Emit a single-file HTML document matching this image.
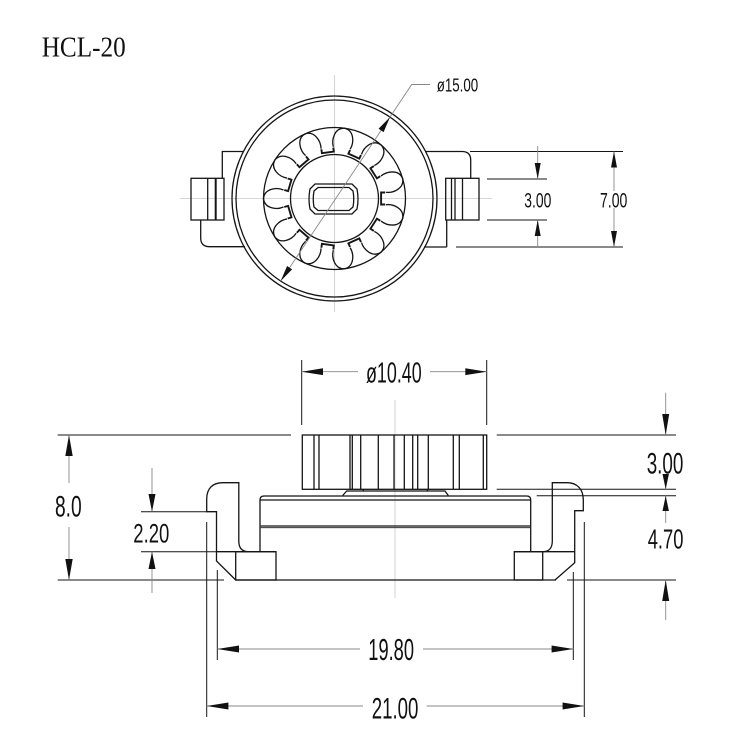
<!DOCTYPE html>
<html><head><meta charset="utf-8"><style>
html,body{margin:0;padding:0;background:#fff;}
svg{display:block;}
text{font-family:"Liberation Sans",sans-serif;fill:#111;}
</style></head><body>
<svg width="750" height="750" viewBox="0 0 750 750" xmlns="http://www.w3.org/2000/svg">
<rect width="750" height="750" fill="#fff"/>

<!-- Title -->
<text x="41.7" y="56.7" font-size="29" style="font-family:'Liberation Serif',serif" textLength="84" lengthAdjust="spacingAndGlyphs">HCL-20</text>

<!-- ============ TOP VIEW ============ -->
<g stroke="#c8c8c8" stroke-width="0.8" fill="none">
  <line x1="334.5" y1="75" x2="334.5" y2="312"/>
  <line x1="180" y1="198.5" x2="492" y2="198.5"/>
</g>
<g stroke="#151515" stroke-width="1.3" fill="none">
  <circle cx="334.5" cy="198.5" r="102.5"/>
  <circle cx="334.5" cy="198.5" r="98.5"/>
  <circle cx="334.5" cy="198.5" r="71"/>
  <circle cx="334.5" cy="198.5" r="44"/>
  <!-- slot -->
  <path d="M315,184 L352,184 L357,189 Q359,199 357,209 L352,214 L315,214 L310,209 Q308,199 310,189 Z"/>
  <path d="M318,187.5 L349,187.5 L353,191 Q354.5,199 353,207 L349,210.5 L318,210.5 L314,207 Q312.5,199 314,191 Z"/>
  <!-- petals -->
  <g transform="translate(334.5,198.5) rotate(180)">
    <g id="pet">
      <path d="M51,-8.5 C58,-11.5 70,-10 71,0 C70,10 58,11.5 51,8.5"/>
    </g>
    <use href="#pet" transform="rotate(32.727)"/>
    <use href="#pet" transform="rotate(65.454)"/>
    <use href="#pet" transform="rotate(98.181)"/>
    <use href="#pet" transform="rotate(130.909)"/>
    <use href="#pet" transform="rotate(163.636)"/>
    <use href="#pet" transform="rotate(196.363)"/>
    <use href="#pet" transform="rotate(229.090)"/>
    <use href="#pet" transform="rotate(261.818)"/>
    <use href="#pet" transform="rotate(294.545)"/>
    <use href="#pet" transform="rotate(327.272)"/>
    <g id="notch" transform="rotate(16.36)">
      <path d="M50.6,-6 L46.6,-6 L46.6,6 L50.6,6" stroke-width="1.9"/>
    </g>
    <use href="#notch" transform="rotate(32.727)"/>
    <use href="#notch" transform="rotate(65.454)"/>
    <use href="#notch" transform="rotate(98.181)"/>
    <use href="#notch" transform="rotate(130.909)"/>
    <use href="#notch" transform="rotate(163.636)"/>
    <use href="#notch" transform="rotate(196.363)"/>
    <use href="#notch" transform="rotate(229.090)"/>
    <use href="#notch" transform="rotate(261.818)"/>
    <use href="#notch" transform="rotate(294.545)"/>
    <use href="#notch" transform="rotate(327.272)"/>
  </g>
  <!-- left bracket -->
  <path d="M243,151.5 L222.3,151.5 L222.3,178.3"/>
  <rect x="191" y="178.3" width="33" height="41.7"/>
  <line x1="207.7" y1="178.3" x2="207.7" y2="220"/>
  <line x1="215.7" y1="178.3" x2="215.7" y2="220" stroke-width="2"/>
  <path d="M200.7,220 L200.7,238 Q200.7,246.7 209.5,246.7 L245,246.7"/>
  <!-- right bracket -->
  <path d="M425,151.5 L462,151.5 Q470.7,151.5 470.7,160 L470.7,178.3"/>
  <rect x="445.7" y="178.3" width="33.3" height="41.7"/>
  <line x1="451.5" y1="178.3" x2="451.5" y2="220"/>
  <line x1="455" y1="178.3" x2="455" y2="220"/>
  <line x1="462.5" y1="178.3" x2="462.5" y2="220"/>
  <path d="M446.7,220 L446.7,247"/>
  <path d="M424,247 L446.7,247"/>
</g>
<!-- top view ext lines -->
<g stroke="#151515" stroke-width="1" fill="none">
  <line x1="470" y1="151.5" x2="623" y2="151.5"/>
  <line x1="456" y1="247" x2="623" y2="247"/>
  <line x1="487" y1="179" x2="547" y2="179"/>
  <line x1="487" y1="220" x2="547" y2="220"/>
</g>
<g stroke="#888" stroke-width="0.9" fill="none">
  <line x1="537.7" y1="146" x2="537.7" y2="179"/>
  <line x1="537.7" y1="220" x2="537.7" y2="247"/>
  <line x1="614" y1="151.5" x2="614" y2="191"/>
  <line x1="614" y1="208" x2="614" y2="247"/>
  <polyline points="280.7,281 411.7,84.5 430,84.5"/>
</g>
<g fill="#111" stroke="none">
  <polygon points="537.7,179 534.7,163 540.7,163"/>
  <polygon points="537.7,220 534.7,236 540.7,236"/>
  <polygon points="614,151.5 611,167.5 617,167.5"/>
  <polygon points="614,247 611,231 617,231"/>
  <polygon points="390,117.1 383.6,132.1 378.6,128.7"/>
  <polygon points="280.7,281 292.1,269.4 287.1,266.0"/>
</g>
<text x="524.3" y="207.3" font-size="21.5" textLength="27" lengthAdjust="spacingAndGlyphs">3.00</text>
<text x="600" y="207.3" font-size="21.5" textLength="27.3" lengthAdjust="spacingAndGlyphs">7.00</text>
<text x="436.7" y="91.7" font-size="18.5" textLength="41.5" lengthAdjust="spacingAndGlyphs">ø15.00</text>

<!-- ============ SIDE VIEW ============ -->
<line x1="395" y1="400" x2="395" y2="598" stroke="#c8c8c8" stroke-width="0.8"/>
<g stroke="#151515" stroke-width="1.3" fill="none">
  <!-- knob -->
  <rect x="302.3" y="435" width="184.4" height="54.3"/>
  <line x1="314" y1="435" x2="314" y2="489.3"/>
  <line x1="319" y1="435" x2="319" y2="489.3"/>
  <line x1="350" y1="435" x2="350" y2="489.3"/>
  <line x1="352.3" y1="435" x2="352.3" y2="489.3"/>
  <line x1="360.7" y1="435" x2="360.7" y2="489.3"/>
  <line x1="378.3" y1="435" x2="378.3" y2="489.3"/>
  <line x1="394" y1="435" x2="394" y2="489.3"/>
  <line x1="404.3" y1="435" x2="404.3" y2="489.3"/>
  <line x1="412.7" y1="435" x2="412.7" y2="489.3"/>
  <line x1="417.7" y1="435" x2="417.7" y2="489.3"/>
  <line x1="428.3" y1="435" x2="428.3" y2="489.3"/>
  <line x1="453.3" y1="435" x2="453.3" y2="489.3"/>
  <line x1="459.3" y1="435" x2="459.3" y2="489.3"/>
  <line x1="483.3" y1="435" x2="483.3" y2="489.3"/>
  <!-- raised part -->
  <path d="M342.7,495.5 L346.7,491 L445,491 L448.3,495.5"/>
  <line x1="363.3" y1="489.3" x2="363.3" y2="491"/>
  <line x1="427.3" y1="489.3" x2="427.3" y2="491"/>
  <!-- body -->
  <path d="M260,551.7 L260,500 Q260,496 264,496 L526.7,496 Q530.7,496 530.7,500 L530.7,551.7"/>
  <line x1="260" y1="500" x2="530.7" y2="500"/>
  <line x1="260.7" y1="526" x2="530" y2="526"/>
  <line x1="260.7" y1="527.7" x2="530" y2="527.7" stroke-width="0.8"/>
  <!-- feet -->
  <rect x="235.7" y="551.7" width="40.3" height="28.3"/>
  <rect x="514.3" y="551.7" width="28.4" height="28.3"/>
  <line x1="216.5" y1="551.7" x2="276" y2="551.7"/>
  <line x1="514.3" y1="551.7" x2="574.7" y2="551.7"/>
  <line x1="235.7" y1="580" x2="556" y2="580"/>
  <!-- brackets -->
  <path d="M235.7,580 L216.5,561 L216.5,511.7 L206.7,511.7 L206.7,499 C206.7,488 213,482.7 223,482.7 L238.8,482.7 L238.8,541 C238.8,548 242,551.7 248.5,551.7"/>
  <path d="M555,580 L574.7,562.7 L574.7,510.7 L583.3,510.7 L583.3,500 C583.3,489 577,482.7 567,482.7 L552.3,482.7 L552.3,541 C552.3,548 549,551.7 543,551.7"/>
</g>
<!-- ext lines -->
<g stroke="#151515" stroke-width="1" fill="none">
  <line x1="57.7" y1="435" x2="291" y2="435"/>
  <line x1="496.7" y1="435" x2="676" y2="435"/>
  <line x1="57.7" y1="580" x2="224" y2="580"/>
  <line x1="567" y1="580" x2="676" y2="580"/>
  <line x1="141" y1="511.7" x2="206.7" y2="511.7"/>
  <line x1="141" y1="551.7" x2="216.5" y2="551.7"/>
  <line x1="496.7" y1="489.3" x2="676" y2="489.3"/>
  <line x1="536.7" y1="495.7" x2="676" y2="495.7"/>
  <line x1="301.7" y1="360" x2="301.7" y2="425"/>
  <line x1="486.7" y1="360" x2="486.7" y2="425"/>
  <line x1="206.7" y1="522" x2="206.7" y2="717"/>
  <line x1="217.3" y1="570" x2="217.3" y2="660"/>
  <line x1="573.3" y1="572" x2="573.3" y2="660"/>
  <line x1="584.3" y1="522" x2="584.3" y2="717"/>
</g>
<!-- dim lines -->
<g stroke="#888" stroke-width="0.9" fill="none">
  <line x1="69" y1="435" x2="69" y2="483"/>
  <line x1="69" y1="527" x2="69" y2="580"/>
  <line x1="152" y1="468" x2="152" y2="511.7"/>
  <line x1="152" y1="551.7" x2="152" y2="593"/>
  <line x1="665.7" y1="392.7" x2="665.7" y2="435"/>
  <line x1="665.7" y1="475" x2="665.7" y2="489.3"/>
  <line x1="665.7" y1="495.7" x2="665.7" y2="523"/>
  <line x1="665.7" y1="580" x2="665.7" y2="620"/>
  <line x1="301.7" y1="371.7" x2="358" y2="371.7"/>
  <line x1="430" y1="371.7" x2="486.7" y2="371.7"/>
  <line x1="217.3" y1="649" x2="360" y2="649"/>
  <line x1="423" y1="649" x2="573.3" y2="649"/>
  <line x1="206.7" y1="706" x2="363" y2="706"/>
  <line x1="426.7" y1="706" x2="584.3" y2="706"/>
</g>
<g fill="#111" stroke="none">
  <polygon points="69,435 65.3,456 72.7,456"/>
  <polygon points="69,580 65.3,559 72.7,559"/>
  <polygon points="152,511.7 148.5,494 155.5,494"/>
  <polygon points="152,551.7 148.5,569 155.5,569"/>
  <polygon points="665.7,435 662.2,414 669.2,414"/>
  <polygon points="665.7,489.3 662.5,474 668.9,474"/>
  <polygon points="665.7,495.7 662.5,511 668.9,511"/>
  <polygon points="665.7,580 662.2,601 669.2,601"/>
  <polygon points="301.7,371.7 323,368.3 323,375.1"/>
  <polygon points="486.7,371.7 465.3,368.3 465.3,375.1"/>
  <polygon points="217.3,649 239,645.5 239,652.5"/>
  <polygon points="573.3,649 551.6,645.5 551.6,652.5"/>
  <polygon points="206.7,706 228.4,702.5 228.4,709.5"/>
  <polygon points="584.3,706 562.6,702.5 562.6,709.5"/>
</g>
<text x="366" y="382.7" font-size="29" textLength="55.7" lengthAdjust="spacingAndGlyphs">ø10.40</text>
<text x="55" y="516.7" font-size="30" textLength="26.7" lengthAdjust="spacingAndGlyphs">8.0</text>
<text x="133.3" y="542.7" font-size="27" textLength="36" lengthAdjust="spacingAndGlyphs">2.20</text>
<text x="646.7" y="473.3" font-size="30" textLength="36.7" lengthAdjust="spacingAndGlyphs">3.00</text>
<text x="647.7" y="548.3" font-size="28" textLength="35.7" lengthAdjust="spacingAndGlyphs">4.70</text>
<text x="368.3" y="660" font-size="31" textLength="45.7" lengthAdjust="spacingAndGlyphs">19.80</text>
<text x="371.7" y="718.3" font-size="30" textLength="46.7" lengthAdjust="spacingAndGlyphs">21.00</text>
</svg>
</body></html>
